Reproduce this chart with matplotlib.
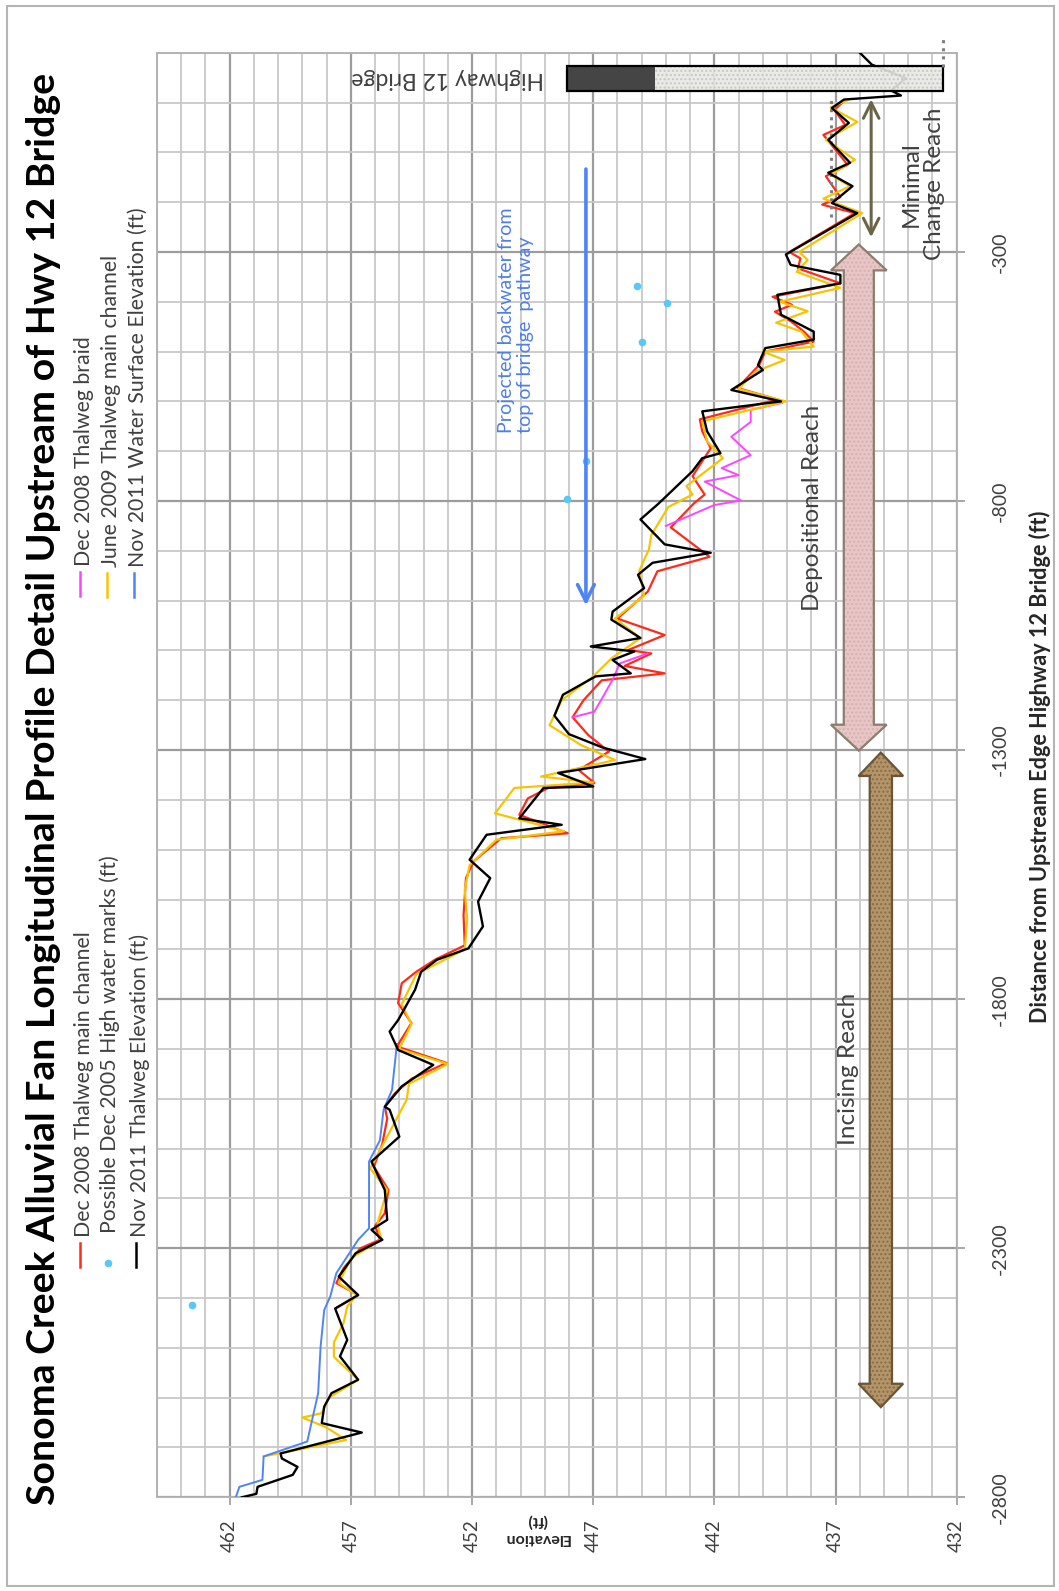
import matplotlib
matplotlib.use("Agg")
import matplotlib.pyplot as plt
from matplotlib.patches import Rectangle, Polygon
from matplotlib.lines import Line2D
from matplotlib.ticker import MultipleLocator
import numpy as np

plt.rcParams['font.family'] = ['Lato', 'DejaVu Sans']

W, H = 1059, 1591

# ---- data: distance from bridge (ft) and elevation (ft) ----
black_dist = [-2800, -2793, -2779, -2755, -2739, -2722, -2712, -2670, -2651, -2618, -2591, -2564,
              -2517, -2484, -2421, -2394, -2357, -2310, -2283, -2263, -2243, -2183, -2126, -2076,
              -2022, -2016, -1975, -1932, -1902, -1865, -1842, -1781, -1745, -1721, -1698, -1654,
              -1604, -1557, -1520, -1470, -1450, -1437, -1376, -1373, -1346, -1318, -1295, -1268,
              -1231, -1189, -1152, -1146, -1119, -1102, -1092, -1075, -1038, -1022, -975, -948,
              -924, -904, -887, -837, -805, -740, -714, -704, -660, -620, -600, -577, -537, -527,
              -493, -476, -460, -426, -386, -363, -346, -326, -305, -222, -202, -168, -141, -121,
              -75, -41, -11, 6, 14, 24, 49, 76, 100]
black_elev = [461.5, 460.9, 460.85, 459.4, 459.2, 459.85, 459.9, 456.55, 458.2, 458.1, 457.8, 456.7,
              457.45, 457.15, 457.65, 456.7, 457.5, 456.8, 455.7, 456.15, 455.5, 455.6, 456.15, 455.0,
              455.4, 455.6, 454.9, 453.6, 455.05, 455.4, 455.05, 454.35, 454.1, 453.45, 452.15, 451.55,
              451.75, 451.25, 452.1, 451.4, 448.3, 450.05, 449.05, 447.0, 448.45, 444.85, 446.6, 448.0,
              448.6, 448.25, 446.9, 445.45, 446.2, 445.3, 447.1, 445.05, 446.25, 446.2, 444.9, 445.15,
              444.55, 442.15, 444.05, 445.05, 444.3, 442.9, 442.5, 441.75, 442.3, 442.5, 439.25, 441.3, 440.0, 440.2,
              439.9, 437.9, 437.9, 439.25, 439.4, 436.8, 436.8, 438.85, 439.05, 436.1, 437.15, 436.3, 437.3, 436.4,
              437.3, 436.45, 437.15, 436.65, 434.3, 434.7, 434.1, 435.5, 436.0]

red_dist = [-2420, -2394, -2370, -2340, -2300, -2283, -2255, -2230, -2183, -2136, -2090, -2040, -2016,
            -1990, -1960, -1928, -1895, -1848, -1808, -1768, -1745, -1720, -1692, -1631, -1557, -1524,
            -1477, -1467, -1430, -1397, -1376, -1366, -1340, -1303, -1270, -1234, -1200, -1160, -1146,
            -1131, -1106, -1099, -1069, -1036, -982, -941, -912, -853, -805, -787, -750, -694, -660,
            -636, -596, -573, -527, -500, -480, -460, -439, -420, -406, -390, -363, -333, -313, -300,
            -222, -205, -190, -148, -125, -65, -45, -15, 5]
red_elev = [457.6, 456.7, 457.6, 457.3, 456.6, 455.8, 456.0, 455.6, 455.45, 456.05, 455.7, 455.5, 455.6,
            455.2, 454.5, 453.05, 455.1, 454.5, 455.05, 454.9, 454.3, 453.5, 452.3, 452.35, 452.25, 451.95,
            450.8, 448.05, 450.05, 449.7, 448.85, 446.95, 447.6, 446.35, 447.2, 447.85, 447.4, 446.65, 444.05,
            445.7, 444.6, 445.55, 444.05, 446.0, 444.75, 444.35, 442.2, 443.8, 442.85, 442.4, 442.9, 442.15, 442.5,
            442.6, 439.4, 441.05, 440.15, 439.9, 437.9, 438.3, 438.85, 439.5, 438.8, 439.6, 436.8, 438.55, 438.45, 438.9,
            436.2, 437.55, 436.8, 437.4, 436.5, 437.5, 436.6, 437.05, 436.6]

yellow_dist = [-2718, -2685, -2660, -2640, -2631, -2600, -2564, -2518, -2489, -2450, -2417, -2394, -2370,
               -2320, -2283, -2250, -2183, -2140, -2085, -2002, -1970, -1930, -1900, -1850, -1810, -1750,
               -1700, -1640, -1580, -1531, -1480, -1463, -1427, -1376, -1365, -1353, -1320, -1290, -1250,
               -1200, -1152, -1116, -1075, -1036, -990, -940, -897, -868, -812, -787, -770, -714, -680,
               -640, -600, -575, -540, -517, -500, -490, -460, -442, -419, -400, -372, -340, -316, -300,
               -222, -193, -168, -145, -115, -75, -39, -10, 5]
yellow_elev = [460.6, 457.2, 458.0, 459.0, 458.2, 457.9, 456.7, 457.7, 457.7, 457.3, 457.15, 456.75, 457.5,
               457.0, 455.75, 455.9, 455.5, 456.2, 455.6, 454.7, 454.6, 453.0, 455.0, 454.5, 454.9, 454.3,
               452.3, 452.2, 452.3, 452.1, 451.0, 448.2, 451.05, 450.25, 447.0, 449.15, 446.1, 447.5, 448.8,
               448.3, 447.0, 446.25, 445.05, 446.1, 444.9, 445.1, 444.7, 444.6, 443.9, 442.9, 443.15, 441.65, 442.3,
               442.5, 439.05, 441.0, 440.3, 439.1, 440.0, 437.9, 438.4, 439.45, 438.15, 439.3, 436.8, 438.6, 438.15, 438.5,
               435.9, 437.5, 436.4, 437.2, 436.2, 437.4, 436.1, 437.2, 436.5]

magenta_dist = [-1234, -1223, -1159, -1126, -1106, np.nan, -850, -808, -799, -761, -748, -734, -708,
                -671, -641, -617, -603]
magenta_elev = [447.85, 446.95, 446.2, 445.9, 444.75, np.nan, 444.0, 442.0, 440.9, 442.4, 441.0, 441.7, 440.5,
                441.3, 440.5, 440.5, 439.2]

blue_dist = [-2800, -2779, -2765, -2718, -2688, -2591, -2498, -2424, -2397, -2350, -2283, -2260, -2126,
             -2083, -2022, -1982, -1890]
blue_elev = [461.75, 461.6, 460.65, 460.6, 458.8, 458.35, 458.25, 458.1, 457.85, 457.6, 456.7, 456.25, 456.25,
             455.8, 455.65, 455.3, 455.1]

hwm_dist = [-2413, -369, -402, -480, -720, -796]
hwm_elev = [463.55, 445.2, 443.95, 445.0, 447.3, 448.1]

elev_ticks = [432, 437, 442, 447, 452, 457, 462]
dist_ticks = [-2800, -2300, -1800, -1300, -800, -300]

RED = '#ff2a1a'
MAGENTA = '#ff44ff'
GOLD = '#f6c400'
BLUE = '#4f84f7'
DOT = '#5ac8f4'
TXT = '#404040'

fig = plt.figure(figsize=(W / 100, H / 100), dpi=100)
ax = fig.add_axes([157 / W, 1 - 1497.3 / H, (956.7 - 157) / W, (1497.3 - 52.7) / H])
ax.set_xlim(465, 432)
ax.set_ylim(-2800, 100)

ax.set_xticks(elev_ticks)
ax.set_xticklabels([str(v) for v in elev_ticks], rotation=90, fontsize=13.5, color=TXT)
ax.xaxis.set_minor_locator(MultipleLocator(1))
ax.set_yticks(dist_ticks)
ax.yaxis.tick_right()
ax.set_yticklabels([str(v) for v in dist_ticks], rotation=90, va='center', fontsize=14, color=TXT)
ax.yaxis.set_minor_locator(MultipleLocator(100))
ax.tick_params(which='major', length=6, color='#a0a0a0', width=1.3)
ax.tick_params(axis='x', which='major', pad=10)
ax.tick_params(axis='y', which='major', pad=19)
ax.tick_params(which='minor', length=0)
ax.grid(which='minor', color='#c8c8c8', lw=1.3)
ax.grid(which='major', color='#9c9c9c', lw=1.6)
ax.set_axisbelow(True)
for s in ax.spines.values():
    s.set_color('#b0b0b0')
    s.set_linewidth(1.3)

# series
ax.plot(red_elev, red_dist, color=RED, lw=1.6, zorder=3)
ax.plot(magenta_elev, magenta_dist, color=MAGENTA, lw=1.4, zorder=3)
ax.plot(yellow_elev, yellow_dist, color=GOLD, lw=1.6, zorder=3)
ax.plot(blue_elev, blue_dist, color=BLUE, lw=1.4, zorder=3)
ax.plot(black_elev, black_dist, color='black', lw=1.7, zorder=4)
ax.plot(hwm_elev, hwm_dist, ls='none', marker='o', ms=4.5, color=DOT, zorder=5)


def block_darrow(ec, d0, d1, hw_s, hw_h, hl, face, hatch_col, edge):
    verts = [(ec, d1), (ec + hw_h, d1 - hl), (ec + hw_s, d1 - hl), (ec + hw_s, d0 + hl),
             (ec + hw_h, d0 + hl), (ec, d0), (ec - hw_h, d0 + hl), (ec - hw_s, d0 + hl),
             (ec - hw_s, d1 - hl), (ec - hw_h, d1 - hl)]
    ax.add_patch(Polygon(verts, closed=True, facecolor=face, edgecolor=hatch_col, lw=0,
                         hatch='....', zorder=6))
    ax.add_patch(Polygon(verts, closed=True, facecolor='none', edgecolor=edge, lw=1.6, zorder=6))


# depositional reach (pink) and incising reach (brown) arrows
block_darrow(436.04, -1301, -285, 0.62, 1.15, 52, '#e8c6c6', '#d6b0b0', '#8c7d6c')
block_darrow(435.13, -2619, -1305, 0.46, 0.92, 47, '#b4956a', '#8a6c44', '#6a5538')

ax.text(437.97, -813, 'Depositional Reach', rotation=90, ha='center', va='center',
        fontsize=17.5, color=TXT, zorder=7)
ax.text(436.46, -1939, 'Incising Reach', rotation=90, ha='center', va='center',
        fontsize=17.5, color=TXT, zorder=7)

# minimal change reach
ax.annotate('', xy=(435.53, 12), xytext=(435.53, -276),
            arrowprops=dict(arrowstyle='<->', color='#6b6548', lw=2.2, mutation_scale=28), zorder=7)
ax.text(433.4, -164, 'Minimal\nChange Reach', rotation=90, ha='center', va='center',
        fontsize=17.5, color=TXT, multialignment='center', linespacing=1.15, zorder=7)

# projected backwater arrow
ax.annotate('', xy=(447.3, -1015), xytext=(447.3, -128),
            arrowprops=dict(arrowstyle='->', color=BLUE, lw=2.6, mutation_scale=30), zorder=7)
ax.text(450.17, -663, 'Projected backwater from\ntop of bridge  pathway', rotation=90,
        ha='center', va='bottom', fontsize=14.2, color='#4f7fe8', multialignment='left',
        linespacing=1.15, zorder=7)

# dotted reference lines
ax.plot([437.2, 437.2], [-229, 8], ls=':', color='#7f7f7f', lw=2.2, zorder=3)
ax.plot([432.55, 432.55], [72, 128], ls=':', color='#7f7f7f', lw=2.2, zorder=8, clip_on=False)

# bridge
ax.add_patch(Rectangle((432.55, 24), 448.07 - 432.55, 50, facecolor='#e8e8e4', edgecolor='#c4c4c0',
                       lw=0, hatch='....', alpha=0.9, zorder=6))
ax.add_patch(Rectangle((444.45, 24), 448.07 - 444.45, 50, facecolor='#454545', edgecolor='none', zorder=6))
ax.add_patch(Rectangle((432.55, 24), 448.07 - 432.55, 50, facecolor='none', edgecolor='black',
                       lw=1.6, zorder=6))
ax.text(453.0, 49, 'Highway 12 Bridge', rotation=180, ha='center', va='center', fontsize=16.5,
        color=TXT, zorder=7)

# axis titles
fig.text(1040 / W, 1 - 767 / H, 'Distance from Upstream Edge Highway 12 Bridge (ft)', rotation=90,
         ha='center', va='center', fontsize=15.6, fontweight='bold', color='#262626')
fig.text(537 / W, 1 - 1529 / H, 'Elevation\n(ft)', rotation=180, ha='center', va='center',
         fontsize=11.5, fontweight='bold', color='#262626', multialignment='center', linespacing=1.25)

# title
fig.text(44 / W, 1 - 789 / H,
         'Sonoma Creek Alluvial Fan Longitudinal Profile Detail Upstream of Hwy 12 Bridge',
         rotation=90, ha='center', va='center', fontsize=28.3, fontweight='bold', color='black')

# legend (manual, rotated)
legend = [
    ('Dec 2008 Thalweg main channel', RED, 'line', 80, 84, 1267),
    ('Possible Dec 2005 High water marks (ft)', DOT, 'dot', 108, 110, 1263),
    ('Nov 2011 Thalweg Elevation (ft)', 'black', 'line', 136, 140, 1267),
    ('Dec 2008 Thalweg braid', MAGENTA, 'line', 80, 84, 596),
    ('June 2009 Thalweg main channel', GOLD, 'line', 107, 111, 597),
    ('Nov 2011 Water Surface Elevation (ft)', BLUE, 'line', 134, 138, 597),
]
for label, col, kind, mx, tx, ybot in legend:
    if kind == 'line':
        fig.add_artist(Line2D([mx / W, mx / W], [1 - ybot / H, 1 - (ybot - 24) / H], color=col,
                              lw=1.8, transform=fig.transFigure))
    else:
        fig.add_artist(Line2D([mx / W], [1 - ybot / H], marker='o', ms=4.5, color=col,
                              ls='none', transform=fig.transFigure))
    fig.text(tx / W, 1 - (ybot - 30) / H, label, rotation=90, ha='center', va='bottom',
             fontsize=15.3, color=TXT)

# outer frame
fig.add_artist(Rectangle((7 / W, 1 - 1586 / H), (1054 - 7) / W, (1586 - 6) / H, fill=False,
                         edgecolor='#b4b4b4', lw=1.5, transform=fig.transFigure))

fig.savefig('out.png', dpi=100)
